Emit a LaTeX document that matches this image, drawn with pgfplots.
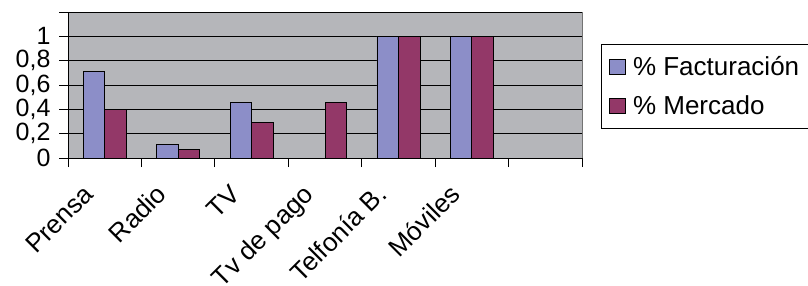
\documentclass[border=0pt]{standalone}
\usepackage{pgfplots}
\pgfplotsset{compat=1.18}
\usepackage{fontspec}
\setmainfont{Liberation Sans}
\definecolor{barblue}{RGB}{140,142,200}
\definecolor{barred}{RGB}{147,56,104}
\definecolor{plotbg}{RGB}{181,182,186}
\begin{document}
\begin{tikzpicture}
\useasboundingbox (-68pt,-128pt) rectangle (740pt,158pt);
\clip (-68pt,-128pt) rectangle (740pt,158pt);
\begin{axis}[
  at={(0pt,0pt)}, anchor=south west, scale only axis,
  width=514pt, height=146pt,
  ybar=0pt, bar width=21.5pt,
  xmin=-0.5, xmax=6.5, ymin=0, ymax=1.2,
  enlargelimits=false,
  axis background/.style={fill=plotbg, draw=gray!90!black},
  axis x line*=bottom, axis y line*=left,
  axis line style={black, line width=0.8pt},
  tick align=outside,
  major tick length=9pt,
  tick style={black, line width=0.8pt},
  xtick={-0.5,0.5,...,6.5}, xticklabels={},
  extra x ticks={0,1,2,3,4,5},
  extra x tick labels={Prensa,Radio,TV,Tv de pago,Telfonía B.,Móviles},
  extra x tick style={tick style={draw=none}, xticklabel style={xshift=-10pt, yshift=-29pt, rotate=45, anchor=base east, inner sep=0pt, font=\fontsize{26}{30}\selectfont}},
  ytick={0,0.2,0.4,0.6,0.8,1,1.2},
  yticklabels={0,{0,2},{0,4},{0,6},{0,8},1,{}},
  ymajorgrids, grid style={black, line width=0.8pt},
  ticklabel style={font=\fontsize{25}{28}\selectfont},
  yticklabel style={xshift=-5pt},
  legend style={at={(1.037,0.781)}, anchor=north west, draw=black, fill=white,
    font=\fontsize{26}{30}\selectfont, row sep=15pt, inner xsep=8pt, inner ysep=10pt},
  legend cell align=left,
  legend image code/.code={\draw[#1,draw=black,line width=0.8pt] (0pt,-7.5pt) rectangle (16pt,7.5pt); \path (21pt,0pt);},
]
\addplot[fill=barblue, draw=black, line width=0.8pt] coordinates {(0,0.71) (1,0.11) (2,0.46) (4,1) (5,1)};
\addplot[fill=barred, draw=black, line width=0.8pt] coordinates {(0,0.40) (1,0.07) (2,0.29) (3,0.46) (4,1) (5,1)};
\legend{\% Facturación,\% Mercado}
\end{axis}
\end{tikzpicture}
\end{document}
